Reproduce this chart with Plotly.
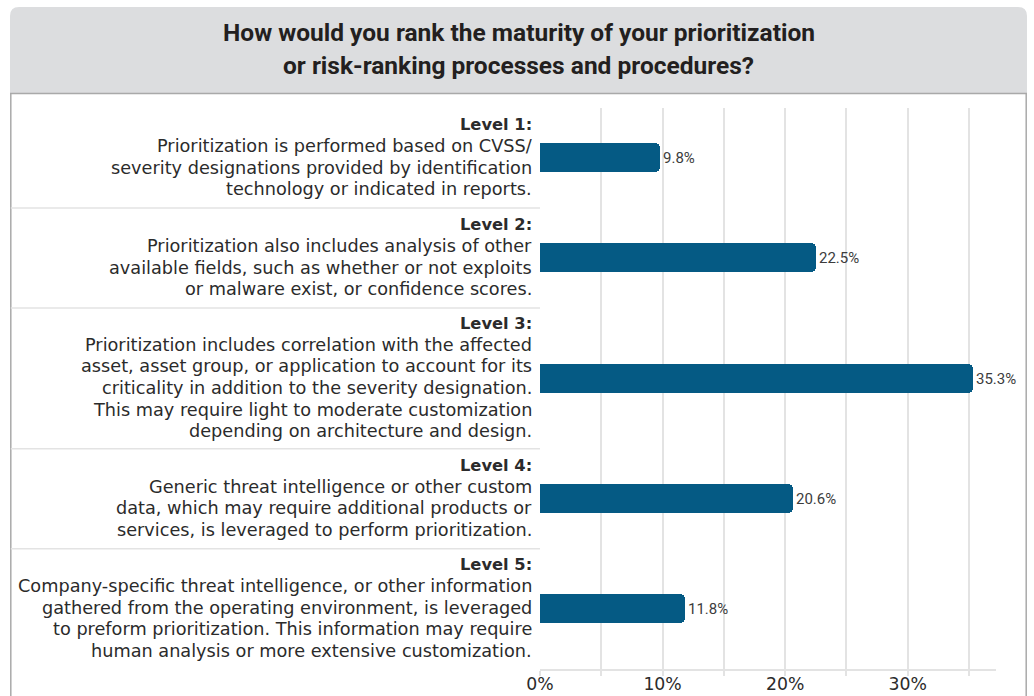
import plotly.graph_objects as go

# ---------------- data ----------------
levels = ["Level 1:", "Level 2:", "Level 3:", "Level 4:", "Level 5:"]
descriptions = [
    ["Prioritization is performed based on CVSS/",
     "severity designations provided by identification",
     "technology or indicated in reports."],
    ["Prioritization also includes analysis of other",
     "available fields, such as whether or not exploits",
     "or malware exist, or confidence scores."],
    ["Prioritization includes correlation with the affected",
     "asset, asset group, or application to account for its",
     "criticality in addition to the severity designation.",
     "This may require light to moderate customization",
     "depending on architecture and design."],
    ["Generic threat intelligence or other custom",
     "data, which may require additional products or",
     "services, is leveraged to perform prioritization."],
    ["Company-specific threat intelligence, or other information",
     "gathered from the operating environment, is leveraged",
     "to preform prioritization. This information may require",
     "human analysis or more extensive customization."],
]
values = [9.8, 22.5, 35.3, 20.6, 11.8]
x_ticks = [0, 10, 20, 30]
x_tick_labels = ["0%", "10%", "20%", "30%"]
title_lines = ["How would you rank the maturity of your prioritization",
               "or risk-ranking processes and procedures?"]

# ---------------- layout constants ----------------
PAGE_W, PAGE_H = 1034, 696
PLOT_L, PLOT_R, PLOT_T = 540, 996, 108
LINE_H, BAND_PAD = 20.4, 18.3     # band height model (per text line + padding)
TEXT_LS = 21.6                    # label line spacing in px
X_MAX = 37.2

heights = [(1 + len(d)) * LINE_H + BAND_PAD for d in descriptions]
bounds = [0.0]
for h in heights:
    bounds.append(bounds[-1] + h)
centers = [(bounds[i] + bounds[i + 1]) / 2 for i in range(len(heights))]
total = bounds[-1]
PLOT_B = PLOT_T + total

def fx(p):
    return (p - PLOT_L) / (PLOT_R - PLOT_L)

def fy(p):
    return (PLOT_B - p) / (PLOT_B - PLOT_T)

LABEL_FONT = "DejaVu Sans, Noto Sans, sans-serif"
NARROW_FONT = "Roboto, sans-serif"
GRID = "#e3e3e3"
BORDER = "#a9a9a9"

fig = go.Figure()
fig.add_trace(go.Bar(
    x=values, y=centers, orientation="h", width=29,
    marker=dict(color="#055a84", line=dict(width=0), cornerradius=5),
    text=[f"{v}%" for v in values], textposition="outside",
    textfont=dict(family=NARROW_FONT, size=15, color="#3c3c3c"),
    cliponaxis=False, hoverinfo="skip",
))

shapes = []
# header band with rounded top corners
x0, x1, yt, yb, r = 10, 1027, 7, 93, 9
path = (f"M {fx(x0)},{fy(yb)} L {fx(x0)},{fy(yt + r)} Q {fx(x0)},{fy(yt)} {fx(x0 + r)},{fy(yt)} "
        f"L {fx(x1 - r)},{fy(yt)} Q {fx(x1)},{fy(yt)} {fx(x1)},{fy(yt + r)} L {fx(x1)},{fy(yb)} Z")
shapes.append(dict(type="path", xref="paper", yref="paper", path=path,
                   fillcolor="#dcdddf", line=dict(width=0), layer="below"))
shapes.append(dict(type="line", xref="paper", yref="paper", x0=fx(10), x1=fx(1027),
                   y0=fy(93.5), y1=fy(93.5), line=dict(color=BORDER, width=1.5)))
for xb in (10.8, 1026.2):
    shapes.append(dict(type="line", xref="paper", yref="paper", x0=fx(xb), x1=fx(xb),
                       y0=fy(93.5), y1=fy(PAGE_H + 5), line=dict(color=BORDER, width=1.5)))
# category separators
for b in bounds[1:-1]:
    shapes.append(dict(type="line", xref="paper", yref="y", x0=fx(10.8), x1=0,
                       y0=b, y1=b, line=dict(color=GRID, width=1.5)))

annotations = []
for i, lvl in enumerate(levels):
    lines = [f"<b>{lvl}</b>"] + descriptions[i]
    n = len(lines)
    for k, line in enumerate(lines):
        annotations.append(dict(
            x=0, xref="x", y=centers[i] + (k - (n - 1) / 2) * TEXT_LS - 1, yref="y",
            xanchor="right", yanchor="middle", xshift=-6, align="right", showarrow=False,
            text=line, font=dict(family=LABEL_FONT, size=16.3 if k == 0 else 17.7,
                                 color="#2b2b2b"),
        ))
for t, py in zip(title_lines, (32.5, 65.5)):
    annotations.append(dict(
        x=fx(518.5), xref="paper", y=fy(py), yref="paper", xanchor="center", yanchor="middle",
        showarrow=False, text=f"<b>{t}</b>",
        font=dict(family=NARROW_FONT, size=24.5, color="#231f20"),
    ))

fig.update_layout(
    width=PAGE_W, height=PAGE_H, autosize=False,
    margin=dict(l=PLOT_L, r=PAGE_W - PLOT_R, t=PLOT_T, b=PAGE_H - PLOT_B, pad=0),
    paper_bgcolor="white", plot_bgcolor="white",
    showlegend=False, bargap=0,
    shapes=shapes, annotations=annotations,
    xaxis=dict(range=[0, X_MAX], tickvals=x_ticks, ticktext=x_tick_labels, automargin=False,
               showgrid=True, gridcolor=GRID, gridwidth=1.5, zeroline=False,
               showline=True, linecolor=GRID, linewidth=1.5,
               ticks="outside", ticklen=5, tickcolor=GRID, tickwidth=1.5,
               ticklabelstandoff=-7,
               minor=dict(dtick=5, tick0=0, showgrid=True, gridcolor=GRID, gridwidth=1.5,
                          ticks="outside", ticklen=5, tickcolor=GRID),
               tickfont=dict(family=LABEL_FONT, size=17.3, color="#2b2b2b"), fixedrange=True),
    yaxis=dict(range=[total, 0], visible=False, fixedrange=True, automargin=False),
)

fig.write_html("out.html")
